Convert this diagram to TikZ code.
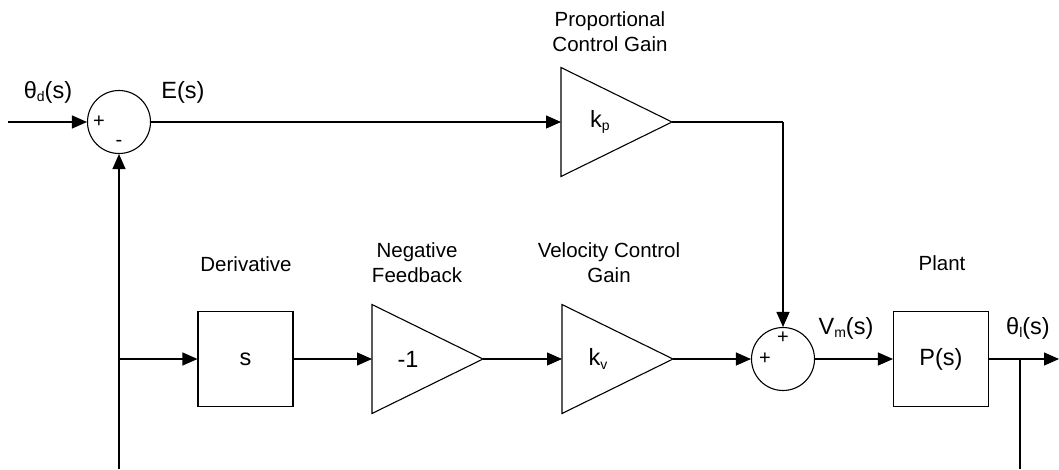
\documentclass[tikz,border=0pt]{standalone}
\usepackage{fontspec}
\setmainfont{Liberation Sans}
\usetikzlibrary{arrows.meta}
\newcommand\sbs[1]{\raisebox{-0.3ex}{\fontsize{14}{14}\selectfont #1}}
\begin{document}
\begin{tikzpicture}[x=1pt,y=-1pt, line width=1.1pt,
  arr/.style={-{Triangle[length=15pt,width=13pt]}},
  sumnode/.style={draw,circle,minimum size=63pt,inner sep=0pt},
  blk/.style={draw,minimum width=95pt,minimum height=95pt,inner sep=0pt,font=\fontsize{23.5}{26}\selectfont},
  main/.style={font=\fontsize{23.5}{26}\selectfont,inner sep=0pt},
  lab/.style={font=\fontsize{20.5}{25}\selectfont,align=center,inner sep=0pt},
  sgn/.style={font=\fontsize{20}{20}\selectfont,inner sep=0pt},
  gain/.pic={\draw (0,-54.5) -- (111,0) -- (0,54.5) -- cycle;
             \coordinate (-in) at (0,0); \coordinate (-out) at (111,0);}]
\useasboundingbox (0,0) rectangle (1059,469);

% summing junctions
\node[sumnode] (s1) at (119,122) {};
\node[sumnode] (s2) at (783,359) {};
\node[sgn] (s1p) at (99,122) {+};
\node[sgn] (s1m) at (119,143) {-};
\node[sgn] (s2p1) at (783,338) {+};
\node[sgn] (s2p2) at (765,359) {+};

% gains
\pic (kp) at (561,122) {gain};
\pic (neg) at (372,359) {gain};
\pic (kv) at (562,359) {gain};
\node[main] (kpt) at (600,122) {k\sbs{p}};
\node[main] (negt) at (408,359) {-1};
\node[main] (kvt) at (598,359) {k\sbs{v}};

% blocks
\node[blk] (der) at (245.5,359) {s};
\node[blk] (pl) at (941,359) {P(s)};

% coordinates
\coordinate (in) at (8,122);
\coordinate (fbb) at (119,469);
\coordinate (fbj) at (119,359);
\coordinate (kpc) at (783,122);
\coordinate (outj) at (1020,359);
\coordinate (out) at (1059,359);
\coordinate (outb) at (1020,469);

% connectors
\draw[arr] (in) -- (s1.west);
\draw[arr] (s1.east) -- (kp-in);
\draw (kp-out) -- (kpc);
\draw[arr] (kpc) -- (s2.north);
\draw[arr] (fbb) -- (s1.south);
\draw[arr] (fbj) -- (der.west);
\draw[arr] (der.east) -- (neg-in);
\draw[arr] (neg-out) -- (kv-in);
\draw[arr] (kv-out) -- (s2.west);
\draw[arr] (s2.east) -- (pl.west);
\draw[arr] (pl.east) -- (out);
\draw (outj) -- (outb);

% labels
\node[main] (lthd) at (48,92) {θ\sbs{d}(s)};
\node[main] (lE) at (183,92) {E(s)};
\node[lab] (lprop) at (610,32) {Proportional\\Control Gain};
\node[lab] (lder) at (246,264) {Derivative};
\node[lab] (lneg) at (417,263) {Negative\\Feedback};
\node[lab] (lvel) at (609,263) {Velocity Control\\Gain};
\node[lab] (lpl) at (942,263) {Plant};
\node[main] (lvm) at (846,328) {V\sbs{m}(s)};
\node[main] (lthl) at (1028,328) {θ\sbs{l}(s)};
\end{tikzpicture}
\end{document}
